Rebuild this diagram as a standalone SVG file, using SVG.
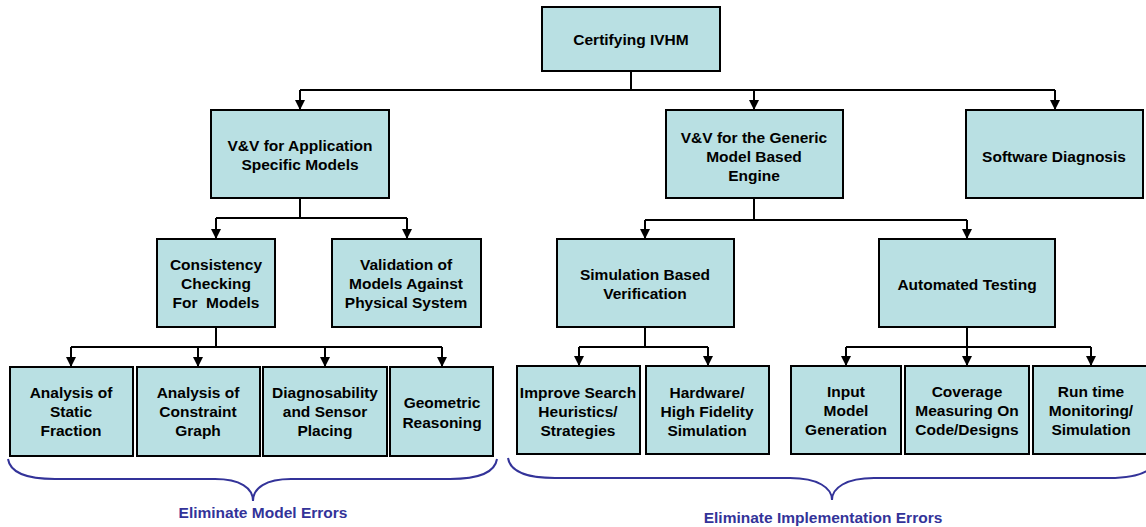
<svg xmlns="http://www.w3.org/2000/svg" width="1146" height="527" viewBox="0 0 1146 527">
<style>
.box{fill:#B9E0E3;stroke:#000;stroke-width:2}
.t{font-family:"Liberation Sans",Arial,sans-serif;font-weight:bold;font-size:15.5px;fill:#000;text-anchor:middle;white-space:pre}
.c{fill:none;stroke:#000;stroke-width:2}
.a{fill:none;stroke:#000;stroke-width:2;marker-end:url(#arr)}
.brace{fill:none;stroke:#333399;stroke-width:2}
.lbl{font-family:"Liberation Sans",Arial,sans-serif;font-weight:bold;font-size:15.5px;fill:#333399;text-anchor:middle}
</style>
<defs>
<marker id="arr" markerWidth="10" markerHeight="11" refX="10" refY="5" orient="auto" markerUnits="userSpaceOnUse">
<path d="M0,0 L10,5 L0,10 z" fill="#000"/>
</marker>
</defs>
<rect width="1146" height="527" fill="#fff"/>
<g id="connectors">
<path class="c" d="M631 71 V90 M300 90 H1055"/>
<path class="a" d="M300 90 V110"/>
<path class="a" d="M754 90 V110"/>
<path class="a" d="M1055 90 V110"/>
<path class="c" d="M300 198 V218 M216 218 H407"/>
<path class="a" d="M216 218 V239"/>
<path class="a" d="M407 218 V239"/>
<path class="c" d="M754 198 V220 M645 220 H967"/>
<path class="a" d="M645 220 V239"/>
<path class="a" d="M967 220 V239"/>
<path class="c" d="M216 327 V347 M71 347 H442"/>
<path class="a" d="M71 347 V367"/>
<path class="a" d="M198 347 V367"/>
<path class="a" d="M325 347 V367"/>
<path class="a" d="M442 347 V367"/>
<path class="c" d="M645 327 V347 M579 347 H708"/>
<path class="a" d="M579 347 V366"/>
<path class="a" d="M708 347 V366"/>
<path class="c" d="M967 327 V347 M846 347 H1091"/>
<path class="a" d="M846 347 V366"/>
<path class="a" d="M967 347 V366"/>
<path class="a" d="M1091 347 V366"/>
</g>
<g id="root"><rect class="box" x="542" y="7" width="178" height="64"/><text class="t" x="631" y="45">Certifying IVHM</text></g>
<g id="vv-app"><rect class="box" x="211" y="110" width="178" height="88"/><text class="t" x="300" y="151">V&amp;V for Application</text><text class="t" x="300" y="170">Specific Models</text></g>
<g id="vv-generic"><rect class="box" x="666" y="110" width="177" height="88"/><text class="t" x="754" y="143">V&amp;V for the Generic</text><text class="t" x="754" y="162">Model Based</text><text class="t" x="754" y="181">Engine</text></g>
<g id="software-diagnosis"><rect class="box" x="966" y="110" width="177" height="88"/><text class="t" x="1054" y="162">Software Diagnosis</text></g>
<g id="consistency"><rect class="box" x="157" y="239" width="118" height="88"/><text class="t" x="216" y="270">Consistency</text><text class="t" x="216" y="289">Checking</text><text class="t" x="216" y="308" xml:space="preserve">For  Models</text></g>
<g id="validation"><rect class="box" x="332" y="239" width="149" height="88"/><text class="t" x="406" y="270">Validation of</text><text class="t" x="406" y="289">Models Against</text><text class="t" x="406" y="308">Physical System</text></g>
<g id="simulation"><rect class="box" x="557" y="239" width="177" height="88"/><text class="t" x="645" y="280">Simulation Based</text><text class="t" x="645" y="299">Verification</text></g>
<g id="automated"><rect class="box" x="879" y="239" width="176" height="88"/><text class="t" x="967" y="290">Automated Testing</text></g>
<g id="static"><rect class="box" x="10" y="367" width="123" height="89"/><text class="t" x="71" y="398">Analysis of</text><text class="t" x="71" y="417">Static</text><text class="t" x="71" y="436">Fraction</text></g>
<g id="constraint"><rect class="box" x="137" y="367" width="123" height="89"/><text class="t" x="198" y="398">Analysis of</text><text class="t" x="198" y="417">Constraint</text><text class="t" x="198" y="436">Graph</text></g>
<g id="diagnosability"><rect class="box" x="263" y="367" width="124" height="89"/><text class="t" x="325" y="398">Diagnosability</text><text class="t" x="325" y="417">and Sensor</text><text class="t" x="325" y="436">Placing</text></g>
<g id="geometric"><rect class="box" x="390" y="367" width="103" height="89"/><text class="t" x="442" y="408">Geometric</text><text class="t" x="442" y="428">Reasoning</text></g>
<g id="improve"><rect class="box" x="517" y="366" width="123" height="88"/><text class="t" x="578" y="398">Improve Search</text><text class="t" x="578" y="417">Heuristics/</text><text class="t" x="578" y="436">Strategies</text></g>
<g id="hardware"><rect class="box" x="646" y="366" width="123" height="88"/><text class="t" x="707" y="398">Hardware/</text><text class="t" x="707" y="417">High Fidelity</text><text class="t" x="707" y="436">Simulation</text></g>
<g id="input"><rect class="box" x="791" y="366" width="110" height="88"/><text class="t" x="846" y="397">Input</text><text class="t" x="846" y="416">Model</text><text class="t" x="846" y="435">Generation</text></g>
<g id="coverage"><rect class="box" x="905" y="366" width="124" height="88"/><text class="t" x="967" y="397">Coverage</text><text class="t" x="967" y="416">Measuring On</text><text class="t" x="967" y="435">Code/Designs</text></g>
<g id="runtime"><rect class="box" x="1033" y="366" width="116" height="88"/><text class="t" x="1091" y="397">Run time</text><text class="t" x="1091" y="416">Monitoring/</text><text class="t" x="1091" y="435">Simulation</text></g>
<g id="brace-model">
<path class="brace" d="M8 459 C10 472 25 479 55 479 L215 479 C240 479 253 488 253 501 C253 488 266 479 291 479 L450 479 C480 479 495 472 497 459"/>
<text class="lbl" x="263" y="518">Eliminate Model Errors</text>
</g>
<g id="brace-implementation">
<path class="brace" d="M508 458 C510 471 525 478 555 478 L790 478 C818 478 832 488 832 500 C832 488 846 478 874 478 L1109 478 C1139 478 1154 471 1156 458"/>
<text class="lbl" x="823" y="523">Eliminate Implementation Errors</text>
</g>
</svg>
